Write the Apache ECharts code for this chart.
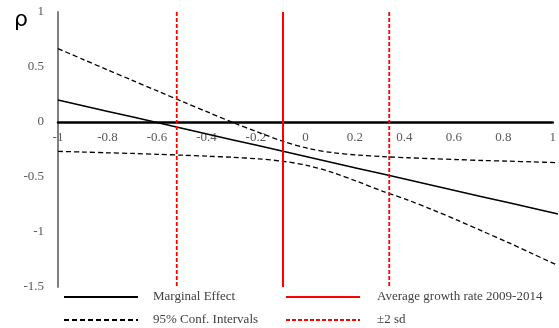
<!DOCTYPE html>
<html>
<head>
<meta charset="utf-8">
<script src="https://cdn.jsdelivr.net/npm/echarts@6/dist/echarts.min.js"></script>
<style>
html,body{margin:0;padding:0;background:#fff;}
#chart{width:559px;height:328px;}
</style>
</head>
<body>
<div id="chart"></div>
<script>
const xValues = [-1,-0.9,-0.8,-0.7,-0.6,-0.5,-0.4,-0.3,-0.2,-0.1,0,0.1,0.2,0.3,0.4,0.5,0.6,0.7,0.8,0.9,1];
const marginalEffect = [0.20,0.148,0.096,0.045,-0.007,-0.059,-0.111,-0.163,-0.214,-0.266,-0.318,-0.37,-0.422,-0.473,-0.525,-0.577,-0.629,-0.681,-0.732,-0.784,-0.836];
const ciUpper = [0.667,0.569,0.472,0.376,0.280,0.184,0.089,-0.005,-0.093,-0.175,-0.240,-0.279,-0.301,-0.315,-0.325,-0.334,-0.342,-0.350,-0.356,-0.363,-0.370];
const ciLower = [-0.267,-0.273,-0.280,-0.286,-0.294,-0.302,-0.311,-0.321,-0.335,-0.357,-0.396,-0.461,-0.543,-0.631,-0.71,-0.80,-0.895,-0.995,-1.095,-1.20,-1.305];
const avgGrowthRate = -0.1;
const sdBounds = [-0.525, 0.325];
const refLineSpan = [1, -1.5];
const xTicks = {min: -1, max: 1, interval: 0.2};
const yTicks = {min: -1.5, max: 1, interval: 0.5};
const legendNames = ['Marginal Effect', '95% Conf. Intervals', 'Average growth rate 2009-2014', '±2 sd'];

const pair = (xs, ys) => xs.map((x, i) => [x, ys[i]]);
const vline = x => refLineSpan.map(y => [x, y]);

const serif = 'Liberation Serif';
const chart = echarts.init(document.getElementById('chart'));
const dashedBlack = {color: '#000', width: 1.3, type: [5, 3]};
const dashedRed = {color: '#ff0000', width: 1.8, type: [4, 2]};

// grid 0: plot area; grid 1: upper half ending at y = 0 to host the x-axis labels
const plotTop = 12, plotBottom = 41, plotH = 328 - plotTop - plotBottom;
const zeroFrac = (yTicks.max - 0) / (yTicks.max - yTicks.min);

const legendPos = [[63, 290.5], [63, 313.5], [285, 290.5], [285, 313.5]];
const legends = legendNames.map((n, i) => ({
  data: [n], left: legendPos[i][0], top: legendPos[i][1], padding: 0,
  itemWidth: 74, itemHeight: 12, selectedMode: false,
  itemStyle: {opacity: 0},
  textStyle: {color: '#404040', fontFamily: serif, fontSize: 13, padding: [0, 0, 0, i < 2 ? 10 : 12]}
}));

chart.setOption({
  animation: false,
  grid: [
    {left: 58, right: 1, top: plotTop, bottom: plotBottom},
    {left: 58, right: 1, top: plotTop, height: plotH * zeroFrac}
  ],
  xAxis: [
    {gridIndex: 0, type: 'value', min: xTicks.min, max: xTicks.max, interval: xTicks.interval,
     axisLine: {show: false}, axisTick: {show: false}, splitLine: {show: false}, axisLabel: {show: false}},
    {gridIndex: 1, type: 'value', min: xTicks.min, max: xTicks.max, interval: xTicks.interval, position: 'bottom',
     axisLine: {show: true, onZero: false, lineStyle: {color: '#000', width: 2.5}},
     axisTick: {show: false}, splitLine: {show: false},
     axisLabel: {margin: 9, color: '#595959', fontFamily: serif, fontSize: 13, showMaxLabel: true, showMinLabel: true}}
  ],
  yAxis: [
    {gridIndex: 0, type: 'value', min: yTicks.min, max: yTicks.max, interval: yTicks.interval,
     axisLine: {show: true, onZero: false, lineStyle: {color: '#808080', width: 2}},
     axisTick: {show: false}, splitLine: {show: false},
     axisLabel: {margin: 14, color: '#595959', fontFamily: serif, fontSize: 13}},
    {gridIndex: 1, type: 'value', min: 0, max: 1, show: false}
  ],
  graphic: [{type: 'text', left: 14, top: 9, style: {text: 'ρ', font: '22px "DejaVu Sans"', fill: '#000'}}],
  legend: legends,
  series: [
    {name: legendNames[0], type: 'line', data: pair(xValues, marginalEffect), symbol: 'none', lineStyle: {color: '#000', width: 1.5}, itemStyle: {color: '#000'}, z: 3},
    {name: legendNames[1], type: 'line', data: pair(xValues, ciUpper), symbol: 'none', smooth: 0.3, lineStyle: dashedBlack, itemStyle: {color: '#000'}, z: 3},
    {name: legendNames[1], type: 'line', data: pair(xValues, ciLower), symbol: 'none', smooth: 0.3, lineStyle: dashedBlack, itemStyle: {color: '#000'}, z: 3},
    {name: legendNames[2], type: 'line', data: vline(avgGrowthRate), symbol: 'none', lineStyle: {color: '#ff0000', width: 2}, itemStyle: {color: '#ff0000'}, z: 4},
    {name: legendNames[3], type: 'line', data: vline(sdBounds[0]), symbol: 'none', lineStyle: dashedRed, itemStyle: {color: '#ff0000'}, z: 4},
    {name: legendNames[3], type: 'line', data: vline(sdBounds[1]), symbol: 'none', lineStyle: dashedRed, itemStyle: {color: '#ff0000'}, z: 4}
  ]
});
</script>
</body>
</html>
